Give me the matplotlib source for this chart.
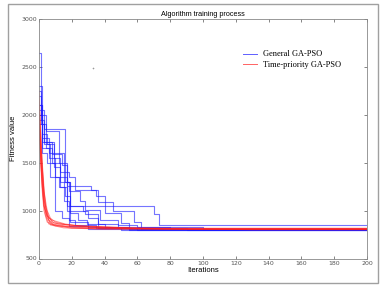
import matplotlib
matplotlib.use("Agg")
import matplotlib.pyplot as plt
from matplotlib.patches import Rectangle

# breakpoints (iteration, fitness) of each run
blue_runs = [
    [(0, 2640), (1, 2000), (4, 1830), (12, 1500), (17, 1050), (70, 960), (73, 845)],
    [(0, 2300), (2, 1720), (8, 1590), (14, 1480), (17, 1260), (32, 1220), (36, 1090), (45, 1000), (58, 880), (62, 810)],
    [(0, 2100), (2, 1760), (6, 1600), (15, 1400), (18, 1350), (22, 1210), (35, 1150), (40, 980), (50, 870), (55, 800)],
    [(0, 2050), (3, 1700), (7, 1350), (12, 1250), (16, 1150), (19, 1050), (27, 1000), (30, 920), (36, 860), (48, 820), (90, 800)],
    [(0, 1950), (2, 1600), (5, 1500), (10, 1350), (17, 1300), (19, 980), (24, 900), (29, 860), (40, 830), (100, 805)],
    [(0, 2200), (1, 1900), (4, 1650), (8, 1500), (13, 1400), (15, 1100), (18, 900), (22, 850), (35, 815), (60, 800)],
    [(0, 2000), (2, 1800), (5, 1700), (9, 1550), (13, 1300), (18, 1200), (25, 1100), (28, 1010), (37, 900), (48, 850), (60, 830), (80, 805)],
    [(0, 1900), (3, 1720), (9, 1450), (13, 1250), (17, 1000), (28, 960), (36, 820), (50, 800)],
    [(0, 2250), (1, 1950), (3, 1850), (16, 1300), (19, 880), (30, 830), (55, 810)],
    [(0, 2100), (2, 1650), (6, 1550), (10, 1000), (14, 920), (18, 840), (30, 805)],
]

red_runs = [
    [(0, 2100), (1, 1750), (2, 1450), (3, 1200), (4, 1050), (6, 930), (8, 880), (12, 860), (25, 840), (45, 820), (80, 805)],
    [(0, 2000), (1, 1650), (2, 1350), (3, 1120), (5, 950), (9, 870), (20, 845), (40, 830), (60, 815)],
    [(0, 2250), (1, 1850), (2, 1500), (3, 1250), (4, 1050), (6, 900), (9, 850), (20, 825), (35, 810)],
    [(0, 1950), (1, 1550), (2, 1250), (3, 1050), (5, 920), (8, 860), (18, 835), (50, 815), (110, 805)],
    [(0, 2050), (1, 1700), (2, 1400), (3, 1150), (4, 1000), (7, 850), (15, 820), (40, 805)],
    [(0, 1850), (1, 1500), (2, 1200), (3, 1000), (5, 880), (10, 840), (30, 820), (70, 810)],
    [(0, 2150), (1, 1800), (2, 1450), (3, 1200), (5, 1000), (7, 920), (10, 880), (16, 855), (30, 830), (90, 805)],
    [(0, 2000), (1, 1600), (2, 1300), (3, 1080), (4, 950), (6, 860), (20, 815)],
    [(0, 1900), (1, 1550), (2, 1250), (3, 1050), (5, 940), (8, 900), (16, 860), (25, 840), (55, 820), (130, 800)],
]

max_iter = 200
x_ticks = list(range(0, 201, 20))
y_ticks = [500, 1000, 1500, 2000, 2500, 3000]

fig = plt.figure(figsize=(3.91, 2.89), dpi=100)
# outer grey frame
fig.patches.append(Rectangle((8 / 391, 1 - 283 / 289), 370 / 391, 279 / 289,
                             transform=fig.transFigure, fill=False,
                             edgecolor="#a0a0a0", linewidth=1.0))

ax = fig.add_axes([39 / 391, 1 - 258.5 / 289, 328 / 391, 239.5 / 289])

for i, run in enumerate(blue_runs):
    xs = [p[0] for p in run] + [max_iter]
    ys = [p[1] for p in run] + [run[-1][1]]
    ax.plot(xs, ys, drawstyle="steps-post", color="#1a1aff", alpha=0.6,
            linewidth=0.8, label="General GA-PSO" if i == 0 else None)

for i, run in enumerate(red_runs):
    xs = [p[0] for p in run] + [max_iter]
    ys = [p[1] for p in run] + [run[-1][1]]
    ax.plot(xs, ys, color="#ff2020", alpha=0.5, linewidth=0.7,
            label="Time-priority GA-PSO" if i == 0 else None)

# stray mark on the original
ax.plot([33], [2490], marker="+", color="#999999", markersize=2, markeredgewidth=0.4)

ax.set_xlim(0, 200)
ax.set_ylim(500, 3000)
ax.set_xticks(x_ticks)
ax.set_yticks(y_ticks)
ax.tick_params(direction="in", length=2.5, width=0.5, labelsize=4.5,
               colors="#555555", top=True, right=True, pad=1.5)
for s in ax.spines.values():
    s.set_color("#888888")
    s.set_linewidth(0.6)

ax.set_title("Algorithm training process", fontsize=5.2, family="Liberation Sans", pad=2)
ax.set_xlabel("Iterations", fontsize=5.5, family="Liberation Sans", labelpad=1)
ax.set_ylabel("Fitness value", fontsize=5.5, family="Liberation Sans", labelpad=3)

leg = ax.legend(loc="upper left", bbox_to_anchor=(0.6, 0.9), frameon=False,
                prop={"family": "Liberation Serif", "size": 6},
                handlelength=1.6, handletextpad=0.8, labelspacing=0.3)
for line in leg.get_lines():
    line.set_alpha(0.7)
    line.set_linewidth(0.7)

fig.savefig("out.png", dpi=100)
